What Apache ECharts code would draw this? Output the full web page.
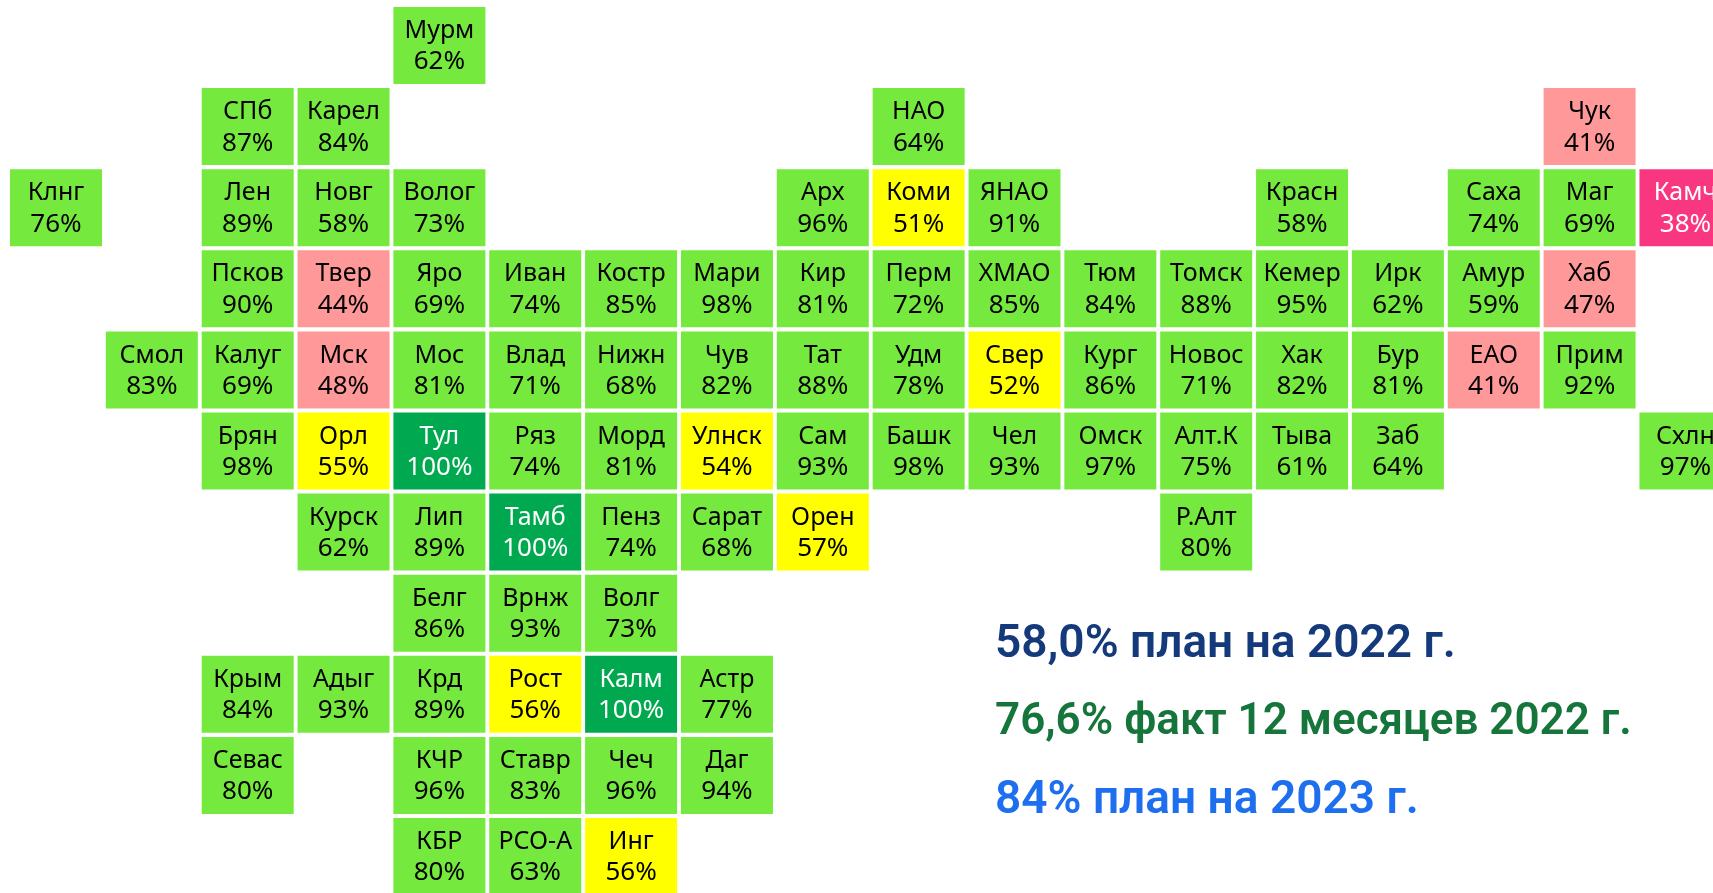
<!DOCTYPE html>
<html lang="ru">
<head>
<meta charset="utf-8">
<style>html,body{margin:0;padding:0;background:#fff;overflow:hidden}#c{width:1713px;height:893px}</style>
<script src="https://cdn.jsdelivr.net/npm/echarts@6/dist/echarts.min.js"></script>
</head>
<body>
<div id="c"></div>
<script>
const regions = ['Мурм','СПб','Карел','НАО','Чук','Клнг','Лен','Новг','Волог','Арх','Коми','ЯНАО','Красн','Саха','Маг','Камч',
 'Псков','Твер','Яро','Иван','Костр','Мари','Кир','Перм','ХМАО','Тюм','Томск','Кемер','Ирк','Амур','Хаб',
 'Смол','Калуг','Мск','Мос','Влад','Нижн','Чув','Тат','Удм','Свер','Кург','Новос','Хак','Бур','ЕАО','Прим',
 'Брян','Орл','Тул','Ряз','Морд','Улнск','Сам','Башк','Чел','Омск','Алт.К','Тыва','Заб','Схлн',
 'Курск','Лип','Тамб','Пенз','Сарат','Орен','Р.Алт',
 'Белг','Врнж','Волг',
 'Крым','Адыг','Крд','Рост','Калм','Астр',
 'Севас','КЧР','Ставр','Чеч','Даг',
 'КБР','РСО-А','Инг'];
const percents = [62,87,84,64,41,76,89,58,73,96,51,91,58,74,69,38,
 90,44,69,74,85,98,81,72,85,84,88,95,62,59,47,
 83,69,48,81,71,68,82,88,78,52,86,71,82,81,41,92,
 98,55,100,74,81,54,93,98,93,97,75,61,64,97,
 62,89,100,74,68,57,80,
 86,93,73,
 84,93,89,56,100,77,
 80,96,83,96,94,
 80,63,56];
const tileCol = [4,2,3,9,16,0,2,3,4,8,9,10,13,15,16,17,
 2,3,4,5,6,7,8,9,10,11,12,13,14,15,16,
 1,2,3,4,5,6,7,8,9,10,11,12,13,14,15,16,
 2,3,4,5,6,7,8,9,10,11,12,13,14,17,
 3,4,5,6,7,8,12,
 4,5,6,
 2,3,4,5,6,7,
 2,4,5,6,7,
 4,5,6];
const tileRow = [0,1,1,1,1,2,2,2,2,2,2,2,2,2,2,2,
 3,3,3,3,3,3,3,3,3,3,3,3,3,3,3,
 4,4,4,4,4,4,4,4,4,4,4,4,4,4,4,4,
 5,5,5,5,5,5,5,5,5,5,5,5,5,5,
 6,6,6,6,6,6,6,
 7,7,7,
 8,8,8,8,8,8,
 9,9,9,9,9,
 10,10,10];
const noteTexts = ['58,0% план на 2022 г.','76,6% факт 12 месяцев 2022 г.','84% план на 2023 г.'];
const noteColors = ['#143A7B','#16753B','#1E6FEF'];
const noteBaselines = [657,736,813];
const noteSizes = [46,44,46];

const FONT = '"Noto Sans", sans-serif';
function fill(p){
  if(p>=100) return '#00A94F';
  if(p>=58) return '#76E93F';
  if(p>=50) return '#FFFF00';
  if(p>=40) return '#FF9999';
  return '#F93780';
}
const seriesData = regions.map((n,i)=>[tileCol[i],tileRow[i],percents[i],n]);
const chart = echarts.init(document.getElementById('c'),null,{renderer:'canvas'});
chart.setOption({
  animation:false,
  backgroundColor:'#fff',
  grid:{left:56,top:45.5,width:1629.45,height:811,containLabel:false},
  xAxis:{type:'value',min:0,max:17,show:false},
  yAxis:{type:'value',min:0,max:10,inverse:true,show:false},
  series:[{
    type:'custom',
    coordinateSystem:'cartesian2d',
    clip:false,
    encode:{x:0,y:1},
    data:seriesData,
    renderItem(params,api){
      const c=api.coord([api.value(0),api.value(1)]);
      const s=api.size([1,1]);
      const w=s[0]-3.85,h=s[1]-4.1;
      const p=api.value(2);
      const name=seriesData[params.dataIndex][3];
      const col=(p>=100||p<40)?'#fff':'#000';
      return {type:'group',children:[
        {type:'rect',shape:{x:c[0]-w/2,y:c[1]-h/2,width:w,height:h},style:{fill:fill(p)}},
        {type:'text',style:{text:name,x:c[0],y:c[1]-14.5,align:'center',verticalAlign:'middle',font:'400 25px '+FONT,fill:col}},
        {type:'text',style:{text:p+'%',x:c[0],y:c[1]+16.5,align:'center',verticalAlign:'middle',font:'400 26px '+FONT,fill:col}}
      ]};
    }
  }],
  graphic:noteTexts.map((t,i)=>({
    type:'text',left:995,top:noteBaselines[i]-35,
    style:{text:t,font:'600 '+noteSizes[i]+'px Roboto, sans-serif',fill:noteColors[i]}
  }))
});
</script>
</body>
</html>
